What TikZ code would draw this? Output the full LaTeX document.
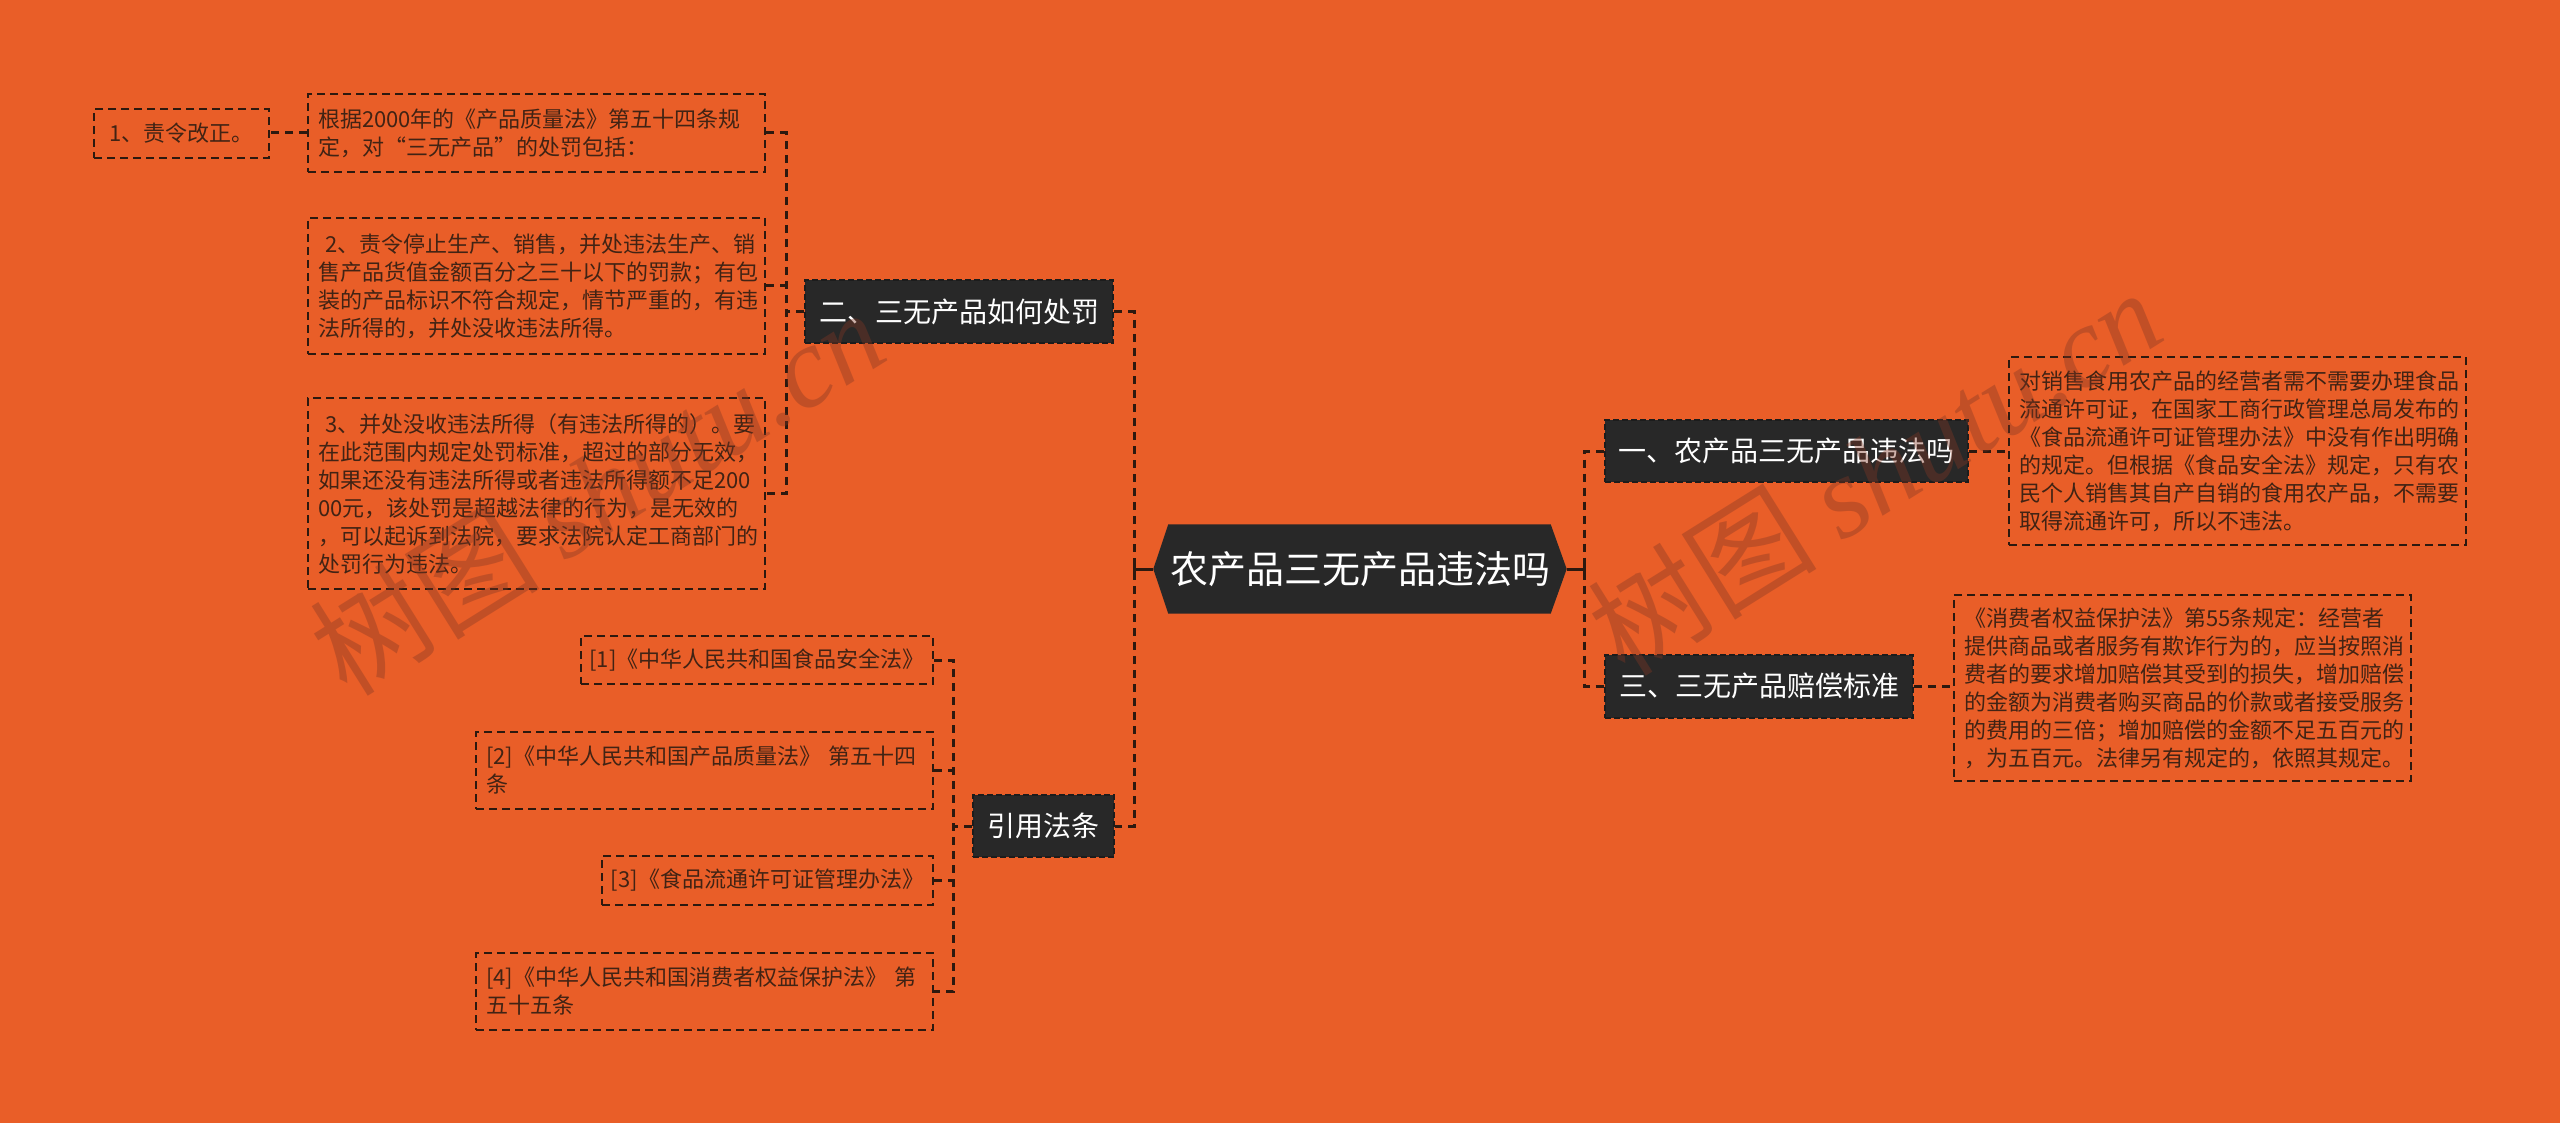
\documentclass[tikz,border=0pt]{standalone}
\usepackage{fontspec}
\setmainfont{Noto Sans CJK SC}
\newfontfamily\wmlatin{Liberation Serif}
\usetikzlibrary{backgrounds}
\definecolor{bgc}{RGB}{233,94,40}
\definecolor{darkc}{RGB}{40,40,40}
\definecolor{darkb}{RGB}{28,28,28}
\definecolor{linec}{RGB}{45,25,15}
\definecolor{txtc}{RGB}{65,35,20}
\definecolor{wmc}{RGB}{130,55,35}
\tikzset{
  tbox/.style={draw=linec, line width=2pt, dash pattern=on 8pt off 5pt, text=txtc,
    align=left, anchor=north west, inner sep=0pt, font=\fontsize{22}{28}\selectfont},
  dnode/.style={fill=darkc, draw=darkb, line width=2pt, dash pattern=on 6pt off 3pt,
    text=white, inner sep=0pt, font=\fontsize{28}{34}\selectfont},
  conn/.style={draw=linec, line width=3pt, dash pattern=on 8pt off 6pt},
  solidconn/.style={draw=linec, line width=3pt},
  wmark/.style={rotate=32, anchor=base west, text=wmc, text opacity=0.38,
    font=\fontsize{115}{115}\selectfont}
}
\begin{document}
\begin{tikzpicture}[x=1pt,y=-1pt]
% root
\node[text=white, inner sep=0pt, minimum width=413, minimum height=89,
  font=\fontsize{38}{46}\selectfont] (root) at (1360,569) {农产品三无产品违法吗};

% main branches
\node[dnode, minimum width=363, minimum height=62] (one) at (1786,451) {一、农产品三无产品违法吗};
\node[dnode, minimum width=308, minimum height=63] (three) at (1759,686) {三、三无产品赔偿标准};
\node[dnode, minimum width=308, minimum height=63] (two) at (959,312) {二、三无产品如何处罚};
\node[dnode, minimum width=141, minimum height=62] (cite) at (1043,826) {引用法条};

% right text boxes
\node[tbox, minimum width=457, minimum height=188, text width=437] (R1) at (2008,356)
{对销售食用农产品的经营者需不需要办理食品\\流通许可证，在国家工商行政管理总局发布的\\《食品流通许可证管理办法》中没有作出明确\\的规定。但根据《食品安全法》规定，只有农\\民个人销售其自产自销的食用农产品，不需要\\取得流通许可，所以不违法。};
\node[tbox, minimum width=457, minimum height=186, text width=437] (R2) at (1953,594)
{《消费者权益保护法》第55条规定：经营者\\提供商品或者服务有欺诈行为的，应当按照消\\费者的要求增加赔偿其受到的损失，增加赔偿\\的金额为消费者购买商品的价款或者接受服务\\的费用的三倍；增加赔偿的金额不足五百元的\\，为五百元。法律另有规定的，依照其规定。};

% left group (二)
\node[tbox, minimum width=457, minimum height=78, text width=437] (A) at (307,93)
{根据2000年的《产品质量法》第五十四条规\\定，对“三无产品”的处罚包括：};
\node[tbox, minimum width=175, minimum height=49] (onefix) at (93,108) {1、责令改正。};
\node[tbox, minimum width=457, minimum height=136, text width=437] (B2) at (307,217)
{\ 2、责令停止生产、销售，并处违法生产、销\\售产品货值金额百分之三十以下的罚款；有包\\装的产品标识不符合规定，情节严重的，有违\\法所得的，并处没收违法所得。};
\node[tbox, minimum width=457, minimum height=191, text width=437] (B3) at (307,397)
{\ 3、并处没收违法所得（有违法所得的）。要\\在此范围内规定处罚标准，超过的部分无效，\\如果还没有违法所得或者违法所得额不足200\\00元，该处罚是超越法律的行为，是无效的\\，可以起诉到法院，要求法院认定工商部门的\\处罚行为违法。};

% citations
\node[tbox, minimum width=352, minimum height=48] (C1) at (580,635) {[1]《中华人民共和国食品安全法》};
\node[tbox, minimum width=457, minimum height=77, text width=437] (C2) at (475,731)
{[2]《中华人民共和国产品质量法》 第五十四\\条};
\node[tbox, minimum width=331, minimum height=49] (C3) at (601,855) {[3]《食品流通许可证管理办法》};
\node[tbox, minimum width=457, minimum height=77, text width=437] (C4) at (475,952)
{[4]《中华人民共和国消费者权益保护法》 第\\五十五条};

% junction coordinates
\coordinate (LV) at (1134,569);
\coordinate (RV) at (1584,569);
\coordinate (V2) at (786,312);
\coordinate (V3) at (953,826);

% root connectors
\draw[solidconn] (root.west) -- (LV);
\draw[solidconn] ([yshift=8pt]LV) -- ([yshift=-8pt]LV);
\draw[solidconn] (root.east) -- (RV);
\draw[solidconn] ([yshift=8pt]RV) -- ([yshift=-8pt]RV);
\draw[conn] (two.east) -- (LV |- two.east) -- (LV |- cite.east) -- (cite.east);
\draw[conn] (one.west) -- (RV |- one.west) -- (RV |- three.west) -- (three.west);

% right details
\draw[conn] (one.east) -- (one.east -| R1.west);
\draw[conn] (three.east) -- (three.east -| R2.west);

% left group
\draw[conn] (A.east) -- (V2 |- A.east) -- (V2 |- B3.east) -- (B3.east);
\draw[conn] (B2.east) -- (V2 |- B2.east);
\draw[conn] (two.west) -- (V2 |- two.west);
\draw[conn] (A.west) -- (A.west -| onefix.east);

% citations
\draw[conn] (C1.east) -- (V3 |- C1.east) -- (V3 |- C4.east) -- (C4.east);
\draw[conn] (C2.east) -- (V3 |- C2.east);
\draw[conn] (C3.east) -- (V3 |- C3.east);
\draw[conn] (cite.west) -- (V3 |- cite.west);

% watermarks
\node[wmark] (wm1) at (345,700) {树图 {\wmlatin\itshape shutu.cn}};
\node[wmark] (wm2) at (1622,680) {树图 {\wmlatin\itshape shutu.cn}};

\begin{scope}[on background layer]
\fill[bgc] (0,0) rectangle (2560,1123);
\fill[darkc] (root.west) -- ([xshift=15pt]root.north west) -- ([xshift=-16pt]root.north east)
  -- (root.east) -- ([xshift=-16pt]root.south east) -- ([xshift=15pt]root.south west) -- cycle;
\end{scope}
\useasboundingbox (0,0) rectangle (2560,1123);
\end{tikzpicture}
\end{document}
